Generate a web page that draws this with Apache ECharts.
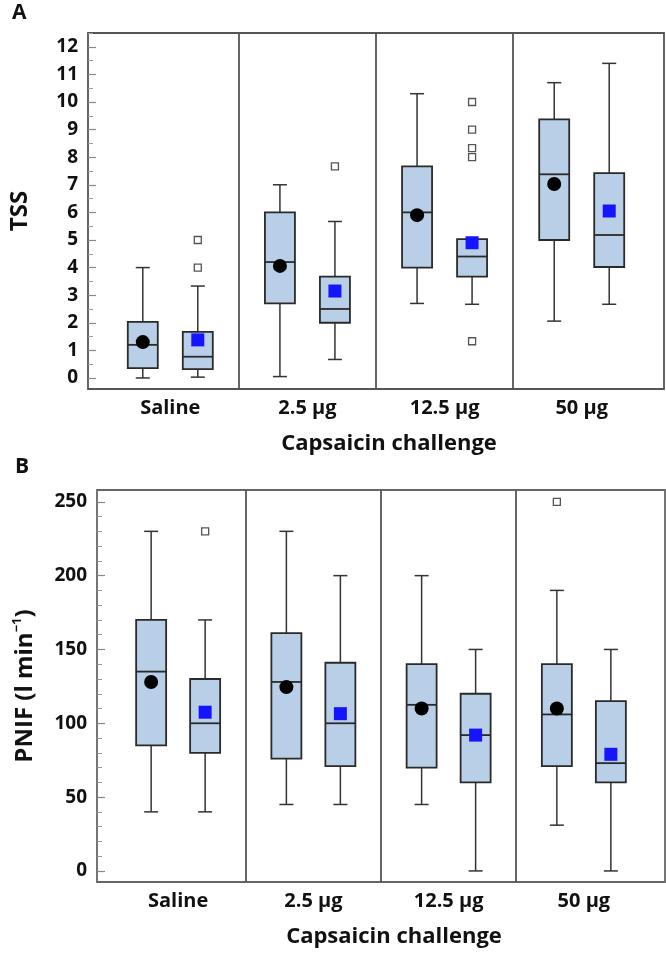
<!DOCTYPE html>
<html>
<head>
<meta charset="utf-8">
<script src="https://cdn.jsdelivr.net/npm/echarts@6/dist/echarts.min.js"></script>
<style>
  html, body { margin: 0; padding: 0; background: #fff; }
  #main { width: 666px; height: 954px; }
</style>
</head>
<body>
<div id="main"></div>
<script>
// categories
var groups = ['Saline', '2.5 µg', '12.5 µg', '50 µg'];

// panel A - TSS, [group, min, q1, median, q3, max]
var tssBox1 = [[1, 0, 0.36, 1.2, 2.03, 4], [2, 0.05, 2.7, 4.2, 6, 7], [3, 2.7, 4, 6, 7.67, 10.3], [4, 2.06, 5, 7.38, 9.37, 10.7]];
var tssBox2 = [[1, 0.03, 0.32, 0.77, 1.67, 3.33], [2, 0.67, 2, 2.5, 3.67, 5.67], [3, 2.67, 3.67, 4.4, 5.03, 5.03], [4, 2.67, 4.02, 5.18, 7.42, 11.4]];
var tssMean1 = [[1, 1.3], [2, 4.06], [3, 5.9], [4, 7.03]];
var tssMean2 = [[1, 1.38], [2, 3.15], [3, 4.9], [4, 6.05]];
var tssOut2 = [[1, 5], [1, 4], [2, 7.67], [3, 10], [3, 9], [3, 8.33], [3, 8], [3, 1.33]];
var tssTicks = [0, 1, 2, 3, 4, 5, 6, 7, 8, 9, 10, 11, 12];
var tssMinor = [0.5, 1.5, 2.5, 3.5, 4.5, 5.5, 6.5, 7.5, 8.5, 9.5, 10.5, 11.5, 12.5];

// panel B - PNIF
var pnifBox1 = [[1, 40, 85, 135, 170, 230], [2, 45, 76, 128, 161, 230], [3, 45, 70, 112.5, 140, 200], [4, 31, 71, 106, 140, 190]];
var pnifBox2 = [[1, 40, 80, 100, 130, 170], [2, 45, 71, 100, 141, 200], [3, 0, 60, 92, 120, 150], [4, 0, 60, 73, 115, 150]];
var pnifMean1 = [[1, 128], [2, 124.5], [3, 110], [4, 110]];
var pnifMean2 = [[1, 107.5], [2, 106.5], [3, 92], [4, 79]];
var pnifOut1 = [[4, 250]];
var pnifOut2 = [[1, 230]];
var pnifTicks = [0, 50, 100, 150, 200, 250];
var pnifMinor = [10, 20, 30, 40, 60, 70, 80, 90, 110, 120, 130, 140, 160, 170, 180, 190, 210, 220, 230, 240];

var dividers = [1.5, 2.5, 3.5];
var FONT = '"Open Sans"';
var OFF = 27.5;

var myChart = echarts.init(document.getElementById('main'));

function boxRender(offset) {
    return function (params, api) {
        var x = api.value(0);
        var lo = api.coord([x, api.value(1)]);
        var q1 = api.coord([x, api.value(2)]);
        var md = api.coord([x, api.value(3)]);
        var q3 = api.coord([x, api.value(4)]);
        var hi = api.coord([x, api.value(5)]);
        var cx = lo[0] + offset;
        var hw = 15, cw = 7;
        var ln = { stroke: '#333', lineWidth: 1.5 };
        var bx = { stroke: '#2a2a2a', lineWidth: 1.8 };
        return {
            type: 'group',
            children: [
                { type: 'line', shape: { x1: cx, y1: hi[1], x2: cx, y2: q3[1] }, style: ln },
                { type: 'line', shape: { x1: cx, y1: q1[1], x2: cx, y2: lo[1] }, style: ln },
                { type: 'line', shape: { x1: cx - cw, y1: hi[1], x2: cx + cw, y2: hi[1] }, style: ln },
                { type: 'line', shape: { x1: cx - cw, y1: lo[1], x2: cx + cw, y2: lo[1] }, style: ln },
                { type: 'rect', shape: { x: cx - hw, y: q3[1], width: hw * 2, height: q1[1] - q3[1] },
                  style: { fill: '#b9cfe7', stroke: '#2a2a2a', lineWidth: 1.8 } },
                { type: 'line', shape: { x1: cx - hw, y1: md[1], x2: cx + hw, y2: md[1] }, style: bx }
            ]
        };
    };
}

function xAxisFor(gi) {
    return {
        type: 'value', gridIndex: gi, min: 0.4, max: 4.6,
        name: 'Capsaicin challenge', nameLocation: 'middle', nameGap: 44,
        nameTextStyle: { fontFamily: FONT, fontWeight: 'bold', fontSize: 22, color: '#111', padding: [0, 0, 0, 26] },
        axisLine: { show: false }, axisTick: { show: false }, splitLine: { show: false },
        axisLabel: {
            customValues: [1, 2, 3, 4], margin: 9,
            fontFamily: FONT, fontWeight: 'bold', fontSize: 20, color: '#111',
            formatter: function (v) { return groups[Math.round(v) - 1]; }
        }
    };
}

function yAxisMajor(gi, mn, mx, ticks, name, gap, rich) {
    return {
        type: 'value', gridIndex: gi, min: mn, max: mx,
        name: name, nameLocation: 'middle', nameGap: gap, nameRotate: 90,
        nameTextStyle: { fontFamily: FONT, fontWeight: 'bold', fontSize: 24, color: '#111', rich: rich },
        axisLine: { show: false }, splitLine: { show: false },
        axisTick: { inside: true, customValues: ticks, length: 8, lineStyle: { color: '#888', width: 1.2 } },
        axisLabel: { customValues: ticks, margin: 10, fontFamily: FONT, fontWeight: 'bold', fontSize: 19, color: '#111' }
    };
}

function yAxisMinor(gi, mn, mx, ticks) {
    return {
        type: 'value', gridIndex: gi, min: mn, max: mx, position: 'left',
        axisLine: { show: false }, splitLine: { show: false }, axisLabel: { show: false },
        axisTick: { inside: true, customValues: ticks, length: 5, lineStyle: { color: '#999', width: 1 } }
    };
}

function boxSeries(xi, yi, data, offset, withDividers) {
    var s = {
        type: 'custom', xAxisIndex: xi, yAxisIndex: yi, data: data,
        renderItem: boxRender(offset), z: 2
    };
    if (withDividers) {
        s.markLine = {
            silent: true, symbol: 'none', label: { show: false },
            lineStyle: { color: '#555', width: 1.8, type: 'solid' },
            data: dividers.map(function (d) { return { xAxis: d }; })
        };
    }
    return s;
}

function meanSeries(xi, yi, data, offset, symbol, color, size) {
    return {
        type: 'scatter', xAxisIndex: xi, yAxisIndex: yi, data: data, z: 5,
        symbol: symbol, symbolSize: size, symbolOffset: [offset, 0],
        itemStyle: { color: color, opacity: 1 }
    };
}

function outSeries(xi, yi, data, offset) {
    return {
        type: 'scatter', xAxisIndex: xi, yAxisIndex: yi, data: data, z: 4,
        symbol: 'rect', symbolSize: 7, symbolOffset: [offset, 0],
        itemStyle: { color: '#fff', borderColor: '#555', borderWidth: 1.3, opacity: 1 }
    };
}

option = {
    backgroundColor: '#fff',
    animation: false,
    graphic: [
        { type: 'text', left: 12, top: 3, style: { text: 'A', fontFamily: FONT, fontWeight: 'bold', fontSize: 21, fill: '#111' } },
        { type: 'text', left: 15, top: 457, style: { text: 'B', fontFamily: FONT, fontWeight: 'bold', fontSize: 21, fill: '#111' } }
    ],
    grid: [
        { left: 87, top: 33, width: 577, height: 356, show: true, borderColor: '#555', borderWidth: 1.8, backgroundColor: '#fff' },
        { left: 97, top: 490, width: 568, height: 392, show: true, borderColor: '#666', borderWidth: 1.8, backgroundColor: '#fff' }
    ],
    xAxis: [xAxisFor(0), xAxisFor(1)],
    yAxis: [
        yAxisMajor(0, -0.4, 12.5, tssTicks, 'TSS', 56),
        yAxisMinor(0, -0.4, 12.5, tssMinor),
        yAxisMajor(1, -7.5, 258, pnifTicks, '{a|PNIF (l min}{s|−1}{a|)}', 58,
            { a: { fontFamily: FONT, fontWeight: 'bold', fontSize: 24, color: '#111', lineHeight: 28 },
              s: { fontFamily: FONT, fontWeight: 'bold', fontSize: 13, color: '#111', verticalAlign: 'top', lineHeight: 28 } }),
        yAxisMinor(1, -7.5, 258, pnifMinor)
    ],
    series: [
        boxSeries(0, 0, tssBox1, -OFF, true),
        boxSeries(0, 0, tssBox2, OFF, false),
        outSeries(0, 0, tssOut2, OFF),
        meanSeries(0, 0, tssMean1, -OFF, 'circle', '#000', 14),
        meanSeries(0, 0, tssMean2, OFF, 'rect', '#1414ff', 13),
        boxSeries(1, 2, pnifBox1, -27, true),
        boxSeries(1, 2, pnifBox2, 27, false),
        outSeries(1, 2, pnifOut1, -27),
        outSeries(1, 2, pnifOut2, 27),
        meanSeries(1, 2, pnifMean1, -27, 'circle', '#000', 14),
        meanSeries(1, 2, pnifMean2, 27, 'rect', '#1414ff', 13)
    ]
};
myChart.setOption(option);
</script>
</body>
</html>
